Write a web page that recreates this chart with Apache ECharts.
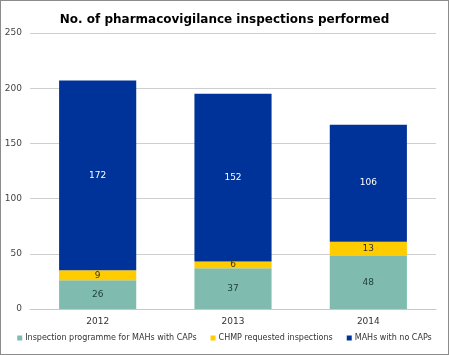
<!DOCTYPE html>
<html><head><meta charset="utf-8">
<script src="https://cdn.jsdelivr.net/npm/echarts@6/dist/echarts.min.js"></script>
<style>html,body{margin:0;padding:0;background:#fff}#c{width:449px;height:355px;box-sizing:border-box;border:1px solid #8c8c8c}</style>
</head><body><div id="c"></div>
<script>
const categories = ['2012','2013','2014'];
const capsProgramme = [26, 37, 48];
const chmpRequested = [9, 6, 13];
const noCaps = [172, 152, 106];
const seriesNames = ['Inspection programme for MAHs with CAPs','CHMP requested inspections','MAHs with no CAPs'];
const yTicks = [0, 50, 100, 150, 200, 250];

const font = 'DejaVu Sans';
const chart = echarts.init(document.getElementById('c'));
function s(name, data, color, labelColor) {
  return {
    name, type: 'bar', stack: 'a', data, barWidth: '57%',
    itemStyle: { color },
    label: { show: true, position: 'inside', color: labelColor, fontFamily: font, fontSize: 9 }
  };
}
chart.setOption({
  animation: false,
  title: { text: 'No. of pharmacovigilance inspections performed', left: 'center', top: 8,
    textStyle: { fontFamily: font, fontSize: 12, fontWeight: 'bold', color: '#000' } },
  grid: { left: 29, right: 12, top: 32, bottom: 45 },
  legend: { bottom: 7, left: 'center', width: 445, itemWidth: 5, itemHeight: 5, itemGap: 14, icon: 'rect',
    textStyle: { fontFamily: font, fontSize: 8, color: '#333', padding: [0, 0, 0, -2] } },
  xAxis: { type: 'category', data: categories,
    axisLine: { lineStyle: { color: '#c8c8c8' } }, axisTick: { show: false },
    axisLabel: { fontFamily: font, fontSize: 9, color: '#333', margin: 8 } },
  yAxis: { type: 'value', min: yTicks[0], max: yTicks[yTicks.length-1], interval: 50,
    axisLabel: { fontFamily: font, fontSize: 9, color: '#444', margin: 8 },
    splitLine: { lineStyle: { color: '#cfcfcf' } } },
  series: [
    s(seriesNames[0], capsProgramme, '#7fbcaf', '#1e3c3c'),
    s(seriesNames[1], chmpRequested, '#ffcc00', '#333'),
    s(seriesNames[2], noCaps, '#003399', '#fff')
  ]
});
</script></body></html>
